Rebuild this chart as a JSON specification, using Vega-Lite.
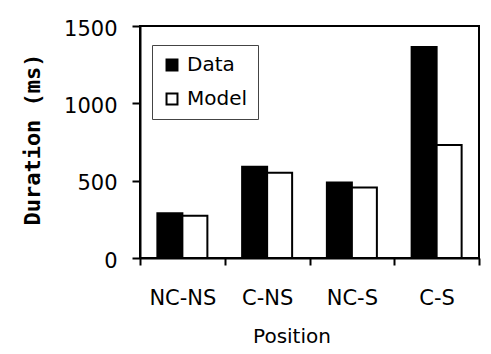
{
  "$schema": "https://vega.github.io/schema/vega-lite/v6.json",
  "autosize": {"type": "none"},
  "padding": {"left": 140, "top": 26, "right": 12, "bottom": 96},
  "width": 339,
  "height": 232,
  "background": "white",
  "config": {
    "view": {"stroke": "black", "strokeWidth": 2},
    "font": "DejaVu Sans"
  },
  "data": {
    "values": [
      {"position": "NC-NS", "series": "Data", "value": 290},
      {"position": "NC-NS", "series": "Model", "value": 273},
      {"position": "C-NS", "series": "Data", "value": 590},
      {"position": "C-NS", "series": "Model", "value": 551},
      {"position": "NC-S", "series": "Data", "value": 488},
      {"position": "NC-S", "series": "Model", "value": 456},
      {"position": "C-S", "series": "Data", "value": 1364},
      {"position": "C-S", "series": "Model", "value": 731}
    ]
  },
  "mark": {"type": "bar", "stroke": "black", "strokeWidth": 2},
  "encoding": {
    "x": {
      "field": "position",
      "type": "nominal",
      "sort": ["NC-NS", "C-NS", "NC-S", "C-S"],
      "scale": {"paddingInner": 0, "paddingOuter": 0},
      "axis": {
        "title": "Position",
        "labelAngle": 0,
        "tickBand": "extent",
        "tickSize": 7,
        "tickWidth": 2,
        "tickColor": "black",
        "domainColor": "black",
        "domainWidth": 2,
        "labelFont": "DejaVu Sans",
        "labelFontSize": 21,
        "labelColor": "black",
        "labelPadding": 22,
        "titleFont": "DejaVu Sans",
        "titleFontSize": 20,
        "titleFontWeight": "normal",
        "titleColor": "black",
        "titleX": 151.5,
        "titleY": 78,
        "titleBaseline": "middle",
        "titleAlign": "center"
      }
    },
    "xOffset": {
      "field": "series",
      "type": "nominal",
      "scale": {"paddingOuter": 0.695, "paddingInner": 0}
    },
    "y": {
      "field": "value",
      "type": "quantitative",
      "scale": {"domain": [0, 1500], "nice": false},
      "axis": {
        "values": [0, 500, 1000, 1500],
        "format": "d",
        "grid": false,
        "tickSize": 8,
        "tickWidth": 2,
        "tickColor": "black",
        "domainColor": "black",
        "domainWidth": 2,
        "labelPadding": 15,
        "labelFont": "DejaVu Sans",
        "labelFontSize": 21,
        "labelColor": "black",
        "labelOffset": 3,
        "title": "Duration (ms)",
        "titleFont": "DejaVu Sans Mono",
        "titleFontWeight": "bold",
        "titleFontSize": 22,
        "titleColor": "black",
        "titleAngle": 270,
        "titleX": -108,
        "titleY": 113,
        "titleBaseline": "middle",
        "titleAlign": "center"
      }
    },
    "fill": {
      "field": "series",
      "type": "nominal",
      "scale": {"domain": ["Data", "Model"], "range": ["black", "white"]},
      "legend": {
        "orient": "none",
        "legendX": 12,
        "legendY": 19,
        "title": null,
        "symbolType": "square",
        "symbolSize": 120,
        "symbolStrokeColor": "black",
        "symbolStrokeWidth": 2,
        "labelFont": "DejaVu Sans",
        "labelFontSize": 20,
        "labelColor": "black",
        "labelOffset": 5,
        "padding": 10,
        "rowPadding": 14,
        "strokeColor": "#444",
        "fillColor": "white"
      }
    }
  }
}
